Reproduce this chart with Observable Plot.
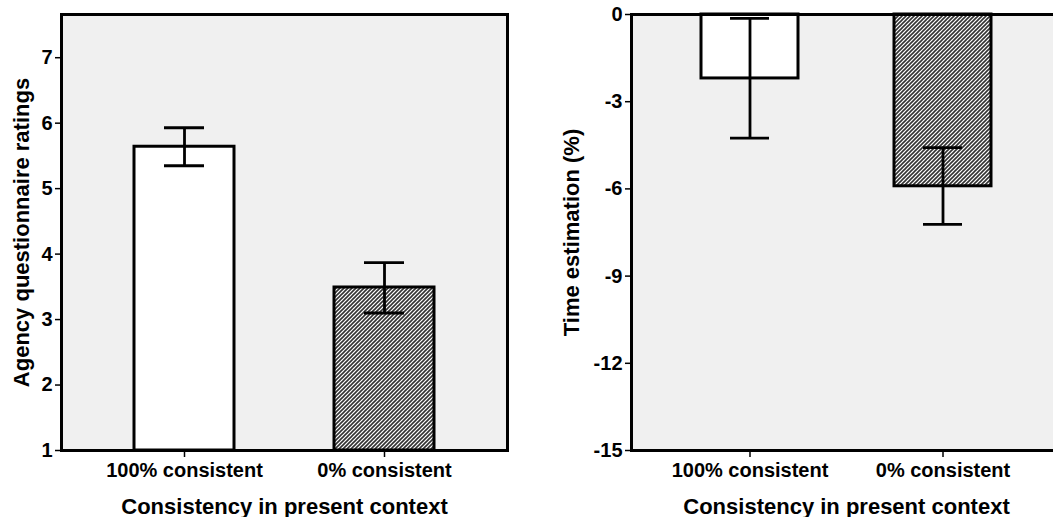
<!DOCTYPE html>
<html>
<head>
<meta charset="utf-8">
<script src="https://cdn.jsdelivr.net/npm/d3@7"></script>
<script src="https://cdn.jsdelivr.net/npm/@observablehq/plot@0.6"></script>
<style>
  html, body { margin: 0; padding: 0; background: white; }
  #wrap { position: relative; width: 1053px; height: 517px; overflow: hidden; background: white; }
  #left { position: absolute; left: 0; top: 0; width: 530px; height: 517px; }
  #right { position: absolute; left: 530px; top: 0; width: 540px; height: 517px; }
  #wrap svg { max-width: none !important; }
</style>
</head>
<body>
<svg width="0" height="0" style="position:absolute">
  <defs>
    <pattern id="hatch" patternUnits="userSpaceOnUse" width="4" height="4">
      <rect width="4" height="4" fill="white"></rect>
      <path d="M-1,1 l2,-2 M0,4 l4,-4 M3,5 l2,-2" stroke="#333" stroke-width="1.6"></path>
    </pattern>
  </defs>
</svg>
<div id="wrap">
  <div id="left"></div>
  <div id="right"></div>
</div>
<script>
const categories = ["100% consistent", "0% consistent"];
const agencyMean = [5.64, 3.49];
const agencyLo = [5.35, 3.10];
const agencyHi = [5.93, 3.87];
const timeMean = [-2.20, -5.91];
const timeLo = [-4.25, -7.22];
const timeHi = [-0.13, -4.58];
const agencyTicks = [1, 2, 3, 4, 5, 6, 7];
const timeTicks = [0, -3, -6, -9, -12, -15];
const xTitle = "Consistency in present context";
const agencyTitle = "Agency questionnaire ratings";
const timeTitle = "Time estimation (%)";

const agencyRows = categories.map((c, i) => ({cat: c, value: agencyMean[i], lo: agencyLo[i], hi: agencyHi[i]}));
const timeRows = categories.map((c, i) => ({cat: c, value: timeMean[i], lo: timeLo[i], hi: timeHi[i]}));

const font = "'Liberation Sans', Arial, Helvetica, sans-serif";

function panel({rows, domain, ticks, base, yTitle, width, marginLeft, marginRight, paddingOuter, paddingInner, titleOffset, capInset}) {
  return Plot.plot({
    width, height: 517,
    marginLeft, marginRight, marginTop: 14, marginBottom: 67,
    style: {fontFamily: font, fontWeight: "bold", fontSize: "20px", color: "black", background: "transparent", overflow: "visible", maxWidth: "none"},
    x: {domain: categories, paddingInner, paddingOuter},
    y: {domain},
    color: {domain: categories, range: ["white", "url(#hatch)"]},
    marks: [
      Plot.frame({fill: "#f0f0f0"}),
      Plot.barY(rows, {x: "cat", y1: base, y2: "value", fill: "cat", stroke: "black", strokeWidth: 3}),
      Plot.ruleX(rows, {x: "cat", y1: "lo", y2: "hi", stroke: "black", strokeWidth: 2.8}),
      Plot.tickY(rows, {x: "cat", y: "lo", insetLeft: capInset, insetRight: capInset, stroke: "black", strokeWidth: 2.8}),
      Plot.tickY(rows, {x: "cat", y: "hi", insetLeft: capInset, insetRight: capInset, stroke: "black", strokeWidth: 2.8}),
      Plot.frame({stroke: "black", strokeWidth: 3}),
      Plot.axisY({ticks, tickFormat: d => String(d), tickSize: 6, tickPadding: 3, strokeWidth: 1.5, label: null, fontSize: 20}),
      Plot.axisX({tickSize: 7, tickPadding: 5, strokeWidth: 1.5, label: null, fontSize: 20}),
      Plot.text([yTitle], {frameAnchor: "left", rotate: -90, dx: -titleOffset, lineAnchor: "top", textAnchor: "middle", fontSize: 22}),
      Plot.text([xTitle], {frameAnchor: "bottom", dy: 63, lineAnchor: "bottom", textAnchor: "middle", fontSize: 22})
    ]
  });
}

document.getElementById("left").append(panel({
  rows: agencyRows, domain: [1, 7.66], ticks: agencyTicks, base: 1, yTitle: agencyTitle,
  width: 530, marginLeft: 61, marginRight: 23, paddingInner: 0.5, paddingOuter: 0.365,
  titleOffset: 48, capInset: 30
}));

document.getElementById("right").append(panel({
  rows: timeRows, domain: [-15, 0], ticks: timeTicks, base: 0, yTitle: timeTitle,
  width: 540, marginLeft: 101, marginRight: 9, paddingInner: 0.495, paddingOuter: 0.356,
  titleOffset: 68, capInset: 29
}));
</script>
</body>
</html>
